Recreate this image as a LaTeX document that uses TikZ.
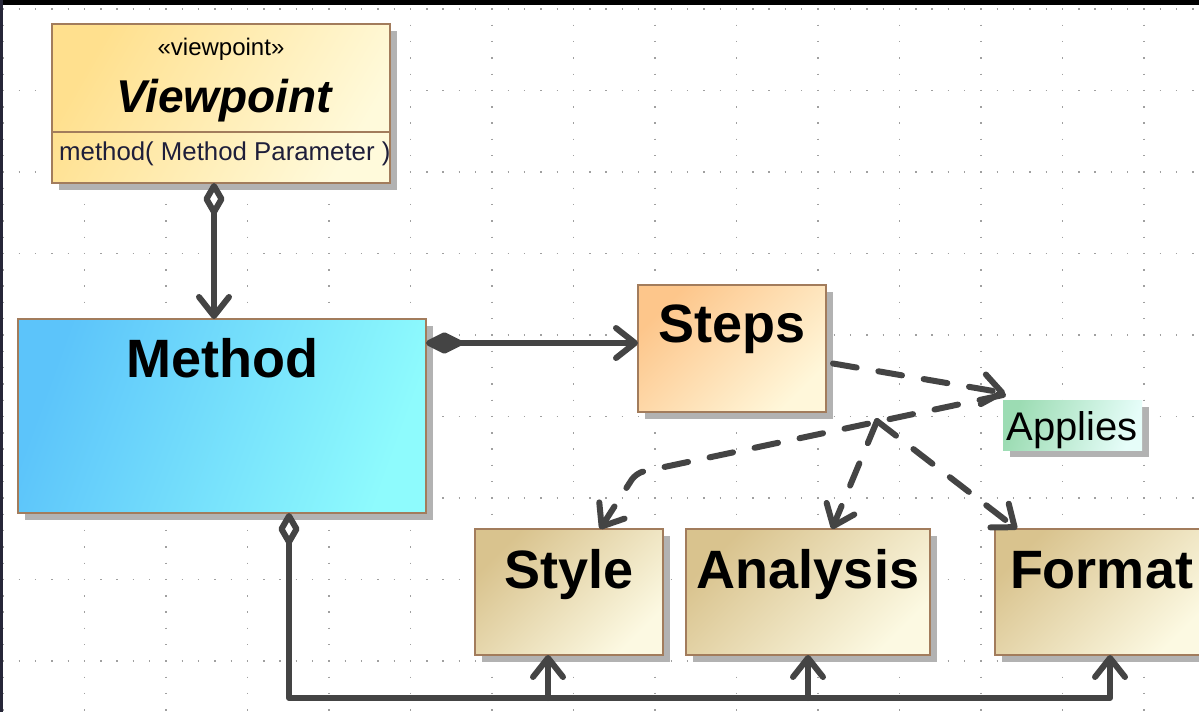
\documentclass[tikz,border=0pt]{standalone}
\usepackage{fontspec}
\setmainfont{Liberation Sans}
\usetikzlibrary{arrows.meta,shadows}

\definecolor{vpA}{HTML}{FFE08E}
\definecolor{vpB}{HTML}{FFFADB}
\definecolor{methA}{HTML}{5CC4FA}
\definecolor{methB}{HTML}{8EFBFD}
\definecolor{stepA}{HTML}{FDC68B}
\definecolor{stepB}{HTML}{FFF7DA}
\definecolor{subA}{HTML}{D9C38E}
\definecolor{subB}{HTML}{FCF9E2}
\definecolor{appA}{HTML}{9CDCB3}
\definecolor{appB}{HTML}{E6FDF9}
\definecolor{boxborder}{HTML}{A27C5C}
\definecolor{shadowgray}{HTML}{B2B2B2}
\definecolor{linecol}{HTML}{444444}
\definecolor{dotgray}{HTML}{A0A0A0}
\definecolor{opcolor}{HTML}{1E1E3A}
\definecolor{edgeband}{HTML}{262638}

\newcommand\setfs[1]{\fontsize{#1}{#1}\selectfont}

\tikzset{
  griddots/.style={dotgray, line width=1.4pt, dash pattern=on 1.4pt off 14.9pt},
  box/.style={rectangle, draw=boxborder, line width=1.8pt, inner sep=0pt, outer sep=0pt,
    anchor=north west,
    general shadow={fill=shadowgray, shadow xshift=7pt, shadow yshift=-7pt}},
  plainbox/.style={rectangle, inner sep=0pt, outer sep=0pt, anchor=north west,
    general shadow={fill=shadowgray, shadow xshift=7pt, shadow yshift=-7pt}},
  title/.style={anchor=base, inner sep=0pt, font=\setfs{54}\bfseries},
  conn/.style={draw=linecol, line width=6pt, line cap=round, line join=round},
  dep/.style={dash pattern=on 24pt off 22pt},
  openv/.tip={Straight Barb[length=19pt, width=30pt, round]},
  odiam/.tip={Diamond[open, length=38pt, width=22pt, round]},
  fdiam/.tip={Diamond[length=44pt, width=22pt, round]},
}

\begin{document}
\begin{tikzpicture}[x=1pt, y=-1pt]
\useasboundingbox (0,0) rectangle (1199,712);
\clip (0,0) rectangle (1199,712);
\fill[white] (0,0) rectangle (1199,712);

% dotted drawing grid
\foreach \i in {0,...,14}
  \draw[griddots] ({3+81.5*\i}, 8.3) -- ({3+81.5*\i}, 712);
\foreach \j in {0,...,8}
  \draw[griddots] (2.3, {9+81.5*\j}) -- (1199, {9+81.5*\j});

% window edges
\fill[black] (0,0) rectangle (1199,5);
\fill[edgeband] (0,0) rectangle (2.5,712);

% Viewpoint class
\node[box, shade, top color=vpA, bottom color=vpB, shading angle=60,
      minimum width=338pt, minimum height=159pt] (vp) at (52,24) {};
\coordinate (vpsep) at (0,132);
\draw[boxborder, line width=1.8pt] (vp.west |- vpsep) -- (vp.east |- vpsep);
\node[anchor=base, inner sep=0pt, font=\setfs{24}] (vpstereo) at (221,55) {«viewpoint»};
\node[anchor=base, inner sep=0pt, font=\setfs{46}\bfseries\itshape] (vptitle) at (224,112) {Viewpoint};
\node[anchor=base west, inner sep=0pt, font=\setfs{25.8}, text=opcolor] (vpop) at (59,160) {method( Method Parameter )};

% Method
\node[box, shade, top color=methA, bottom color=methB, shading angle=70,
      minimum width=408pt, minimum height=194pt] (method) at (18,319) {};
\node[title] (methodtitle) at (222,377) {Method};

% Steps
\node[box, shade, top color=stepA, bottom color=stepB, shading angle=45,
      minimum width=188pt, minimum height=127pt] (steps) at (638,285) {};
\node[title] (stepstitle) at (732,342) {Steps};

% Applies
\node[plainbox, shade, top color=appA, bottom color=appB, shading angle=70,
      minimum width=139pt, minimum height=50pt] (applies) at (1003,400) {};
\node[anchor=base, inner sep=0pt, font=\setfs{40}] (appliestext) at (1072,440) {Applies};

% Style, Analysis, Format
\node[box, shade, top color=subA, bottom color=subB, shading angle=45,
      minimum width=188pt, minimum height=126pt] (style) at (475,529) {};
\node[title] (styletitle) at (569,588) {Style};
\node[box, shade, top color=subA, bottom color=subB, shading angle=45,
      minimum width=244pt, minimum height=126pt] (analysis) at (686,529) {};
\node[title] (analysistitle) at (808,588) {Analysis};
\node[box, shade, top color=subA, bottom color=subB, shading angle=45,
      minimum width=213pt, minimum height=126pt] (format) at (995,529) {};
\node[title] (formattitle) at (1101.5,588) {Format};

% Viewpoint -> Method
\draw[conn, {odiam}-{openv}] ([xshift=-7pt]vp.south) -- ([xshift=-7pt]vp.south |- method.north);

% Method -> Steps
\draw[conn, {fdiam}-{openv}] ([yshift=5.5pt]steps.west -| method.east) -- ([yshift=5.5pt]steps.west);

% Method -> Style / Analysis / Format
\coordinate (railL) at (289,698);
\coordinate (railR) at (1110,698);
\draw[conn, {odiam}-{openv}] (method.south -| railL) -- (railL) -- (railR) -- (railR |- format.south);
\draw[conn, -{openv}] ([xshift=-21pt]style.south |- railL) -- ([xshift=-21pt]style.south);
\draw[conn, -{openv}] (analysis.south |- railL) -- (analysis.south);

% Applies dependencies
\coordinate (hub) at (877,421);
\coordinate (bend) at (636,473);
\draw[conn, dep, -{openv}] ([shift={(7pt,-15pt)}]steps.east) -- ([shift={(2pt,7pt)}]applies.north west);
\draw[conn, dep, rounded corners=8pt, -{openv}] ([shift={(0pt,5pt)}]applies.north west) -- (bend) -- ([xshift=31pt]style.north);
\draw[conn, dep, -{openv}] (hub) -- ([xshift=24pt]analysis.north);
\draw[conn, dep, -{openv}] (hub) -- ([xshift=22pt]format.north west);
\end{tikzpicture}
\end{document}
